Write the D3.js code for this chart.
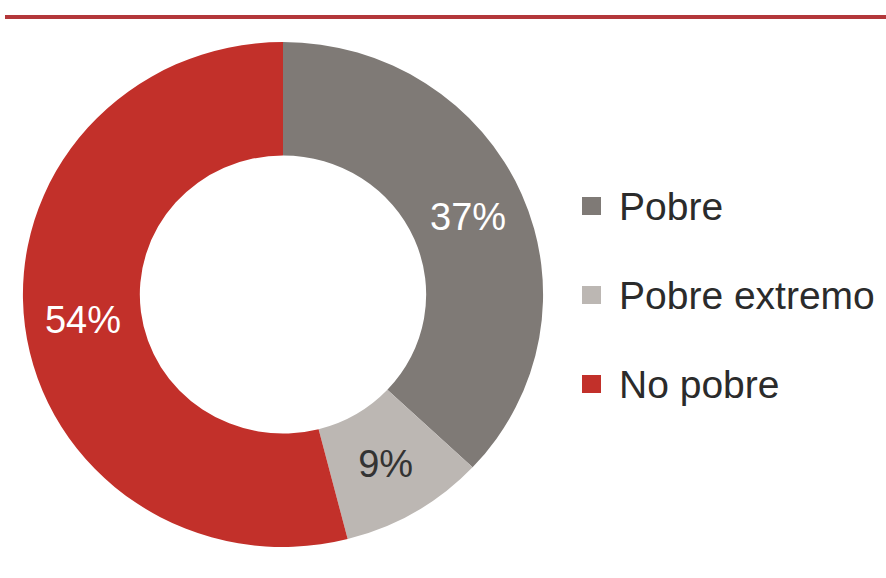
<!DOCTYPE html>
<html>
<head>
<meta charset="utf-8">
<script src="https://cdn.jsdelivr.net/npm/d3@7"></script>
<style>
  html, body { margin: 0; padding: 0; background: #ffffff; }
  svg { display: block; }
</style>
</head>
<body>
<svg id="chart" width="886" height="578"></svg>
<script>
// Poverty status shares (%)
const categories = ["Pobre", "Pobre extremo", "No pobre"];
const values = [37, 9, 54];
const labels = ["37%", "9%", "54%"];
const colors = ["#7f7a76", "#bcb7b3", "#c2302a"];
const labelColors = ["#ffffff", "#333333", "#ffffff"];

const svg = d3.select("#chart");
const W = 886, H = 578;

// top rule
svg.append("rect")
  .attr("x", 5).attr("y", 15)
  .attr("width", W - 5).attr("height", 4)
  .attr("fill", "#b3373a");

const cx = 283, cy = 294.5;
const outerR = 252.5, innerR = 139;
const sx = 1.03; // slight horizontal stretch of the ring

const pie = d3.pie().sort(null).value(d => d)(values);
const arc = d3.arc().innerRadius(innerR).outerRadius(outerR);

const ring = svg.append("g")
  .attr("transform", `translate(${cx},${cy}) scale(${sx},1)`);

ring.selectAll("path")
  .data(pie)
  .join("path")
  .attr("d", arc)
  .attr("fill", (d, i) => colors[i]);

const lab = svg.append("g").attr("transform", `translate(${cx},${cy})`);
lab.selectAll("text")
  .data(pie)
  .join("text")
  .attr("x", d => arc.centroid(d)[0] * sx)
  .attr("y", d => arc.centroid(d)[1])
  .attr("dy", "0.36em")
  .attr("text-anchor", "middle")
  .attr("font-family", "'Liberation Sans', Arial, sans-serif")
  .attr("font-size", 38)
  .attr("fill", (d, i) => labelColors[i])
  .text((d, i) => labels[i]);

// legend
const legY = d3.scalePoint().domain(categories).range([206, 384]);
const leg = svg.append("g");
const items = leg.selectAll("g")
  .data(categories)
  .join("g")
  .attr("transform", d => `translate(582,${legY(d)})`);
items.append("rect")
  .attr("x", 0).attr("y", -9)
  .attr("width", 19).attr("height", 18)
  .attr("fill", (d, i) => colors[i]);
items.append("text")
  .attr("x", 37).attr("y", 0)
  .attr("dy", "0.36em")
  .attr("font-family", "'Liberation Sans', Arial, sans-serif")
  .attr("font-size", 39)
  .attr("fill", "#2b2b2b")
  .text(d => d);
</script>
</body>
</html>
